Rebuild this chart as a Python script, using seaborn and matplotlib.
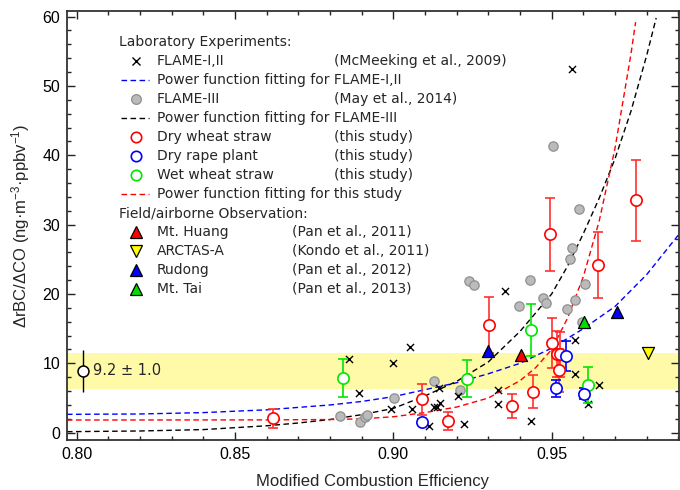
import matplotlib
matplotlib.use("Agg")
import matplotlib.pyplot as plt
from matplotlib.ticker import MultipleLocator, FormatStrFormatter
import seaborn as sns
import pandas as pd

# ---------------- data ----------------
flame12_x = [0.8861, 0.8892, 0.8993, 0.9000, 0.9053, 0.9060, 0.9112, 0.9128, 0.9139, 0.9144, 0.9147,
             0.9203, 0.9223, 0.9331, 0.9331, 0.9353, 0.9434, 0.9563, 0.9574, 0.9574, 0.9616, 0.9650]
flame12_y = [10.7, 5.7, 3.4, 10.1, 12.4, 3.4, 0.9, 3.65, 3.75, 6.5, 4.3,
             5.3, 1.25, 6.2, 4.1, 20.5, 1.7, 52.5, 13.4, 8.5, 4.2, 6.9]

flame3_x = [0.8832, 0.8895, 0.8910, 0.8918, 0.9002, 0.9128, 0.9211, 0.9240, 0.9255, 0.9397, 0.9432,
            0.9473, 0.9481, 0.9505, 0.9547, 0.9558, 0.9563, 0.9574, 0.9587, 0.9595, 0.9605]
flame3_y = [2.45, 1.6, 2.3, 2.5, 5.0, 7.5, 6.15, 21.9, 21.3, 18.2, 22.0,
            19.4, 18.7, 41.3, 17.9, 25.0, 26.7, 19.1, 32.2, 15.9, 21.4]

dry_wheat_x = [0.8621, 0.9090, 0.9174, 0.9302, 0.9374, 0.9440, 0.9495, 0.9500, 0.9516, 0.9526, 0.9523, 0.9645, 0.9765]
dry_wheat_y = [2.07, 4.8, 1.73, 15.5, 3.85, 5.9, 28.6, 12.9, 11.3, 11.3, 9.0, 24.2, 33.5]
dry_wheat_err = [1.35, 2.2, 1.3, 4.0, 1.8, 2.35, 5.3, 3.6, 3.3, 3.2, 3.1, 4.8, 5.8]

dry_rape_x = [0.9090, 0.9514, 0.9544, 0.9603]
dry_rape_y = [1.6, 6.4, 11.05, 5.6]
dry_rape_err = [0.4, 1.2, 2.2, 0.8]

wet_wheat_x = [0.8842, 0.9234, 0.9434, 0.9614]
wet_wheat_y = [7.9, 7.8, 14.8, 6.9]
wet_wheat_err = [2.75, 2.7, 3.8, 2.6]

huang_x, huang_y = [0.9403], [11.2]
arctas_x, arctas_y = [0.9803], [11.5]
rudong_x, rudong_y = [0.9300, 0.9705], [11.8, 17.4]
tai_x, tai_y = [0.9603], [16.0]

mean_x, mean_y, mean_err = [0.8020], [8.9], [3.0]
band_low, band_high = 6.35, 11.45
mean_label = "9.2 \u00b1 1.0"

fit12_x = [0.797, 0.82, 0.84, 0.86, 0.88, 0.89, 0.90, 0.91, 0.92, 0.93, 0.94, 0.95, 0.96, 0.97, 0.98, 0.99]
fit12_y = [2.65, 2.7, 2.9, 3.3, 4.0, 4.5, 5.2, 6.2, 7.2, 8.5, 10.0, 12.2, 15.0, 18.2, 22.8, 28.5]

fit3_x = [0.797, 0.82, 0.84, 0.86, 0.87, 0.88, 0.89, 0.90, 0.91, 0.92, 0.93, 0.94, 0.95, 0.955,
          0.96, 0.965, 0.97, 0.975, 0.98, 0.983]
fit3_y = [0.15, 0.25, 0.45, 1.0, 1.4, 1.9, 2.6, 3.5, 5.3, 7.4, 10.2, 14.6, 20.0, 24.0,
          28.7, 33.8, 39.5, 46.3, 54.4, 59.8]

fitthis_x = [0.797, 0.86, 0.88, 0.89, 0.90, 0.91, 0.92, 0.93, 0.94, 0.945, 0.95, 0.955, 0.96,
             0.965, 0.97, 0.975, 0.9765]
fitthis_y = [1.83, 1.85, 1.9, 2.0, 2.3, 2.9, 3.7, 5.0, 7.5, 9.4, 12.0, 16.5, 22.5,
             30.5, 41.0, 54.5, 59.2]

# ---------------- style ----------------
sns.set_style("ticks")
plt.rcParams["font.family"] = ["Liberation Sans", "DejaVu Sans"]
plt.rcParams["mathtext.fontset"] = "custom"
plt.rcParams["mathtext.rm"] = "Liberation Sans"
plt.rcParams["mathtext.it"] = "Liberation Sans:italic"

RED, BLUE, GREEN, YEL = "#ff0000", "#0000ff", "#00e600", "#ffff00"
RED_BAR = "#ff3030"

fig = plt.figure(figsize=(6.8, 4.9), dpi=100)
ax = fig.add_axes([67 / 680, 50 / 490, 612 / 680, 429 / 490])
ax.set_xlim(0.797, 0.9902)
ax.set_ylim(-1.05, 60.8)

ax.axhspan(band_low, band_high, color="#fffaa8", lw=0, zorder=0)

dash = (4, 2.5)
for fx_, fy_, c in [(fit12_x, fit12_y, BLUE), (fit3_x, fit3_y, "black"), (fitthis_x, fitthis_y, RED)]:
    sns.lineplot(x=fx_, y=fy_, ax=ax, color=c, lw=1.0, sort=False, estimator=None, zorder=2,
                 dashes=False, linestyle=(0, dash))

sns.scatterplot(x=flame3_x, y=flame3_y, ax=ax, s=45, color="#bbbbbb", edgecolor="#8f8f8f",
                linewidth=0.9, zorder=3)
sns.scatterplot(x=flame12_x, y=flame12_y, ax=ax, marker="x", s=26, color="black", linewidth=1.0, zorder=4)

for xs, ys, es, c, bc in [(dry_wheat_x, dry_wheat_y, dry_wheat_err, RED, RED_BAR),
                          (wet_wheat_x, wet_wheat_y, wet_wheat_err, GREEN, GREEN),
                          (dry_rape_x, dry_rape_y, dry_rape_err, BLUE, BLUE)]:
    ax.errorbar(xs, ys, yerr=es, fmt="none", ecolor=bc, elinewidth=1.2, capsize=3.4, capthick=1.2, zorder=5)
    sns.scatterplot(x=xs, y=ys, ax=ax, s=66, facecolor="white", edgecolor=c, linewidth=1.2, zorder=6)

ax.errorbar(mean_x, mean_y, yerr=mean_err, fmt="none", ecolor="black", elinewidth=1.0, capsize=0, zorder=5)
sns.scatterplot(x=mean_x, y=mean_y, ax=ax, s=62, facecolor="white", edgecolor="black", linewidth=1.1, zorder=6)
ax.text(mean_x[0] + 0.0032, mean_y[0], mean_label, fontsize=10.5, family="DejaVu Sans", va="center", ha="left")

tri = [(huang_x, huang_y, RED, "^"), (arctas_x, arctas_y, YEL, "v"),
       (rudong_x, rudong_y, BLUE, "^"), (tai_x, tai_y, "#00dd00", "^")]
for xs, ys, c, m in tri:
    sns.scatterplot(x=xs, y=ys, ax=ax, marker=m, s=75, color=c, edgecolor="black", linewidth=0.9, zorder=7)

# ---------------- axes ----------------
ax.xaxis.set_major_locator(MultipleLocator(0.05))
ax.xaxis.set_minor_locator(MultipleLocator(0.01))
ax.yaxis.set_major_locator(MultipleLocator(10))
ax.yaxis.set_minor_locator(MultipleLocator(2))
ax.xaxis.set_major_formatter(FormatStrFormatter("%.2f"))
ax.tick_params(which="both", direction="in", top=True, right=True, colors="#222222", labelcolor="black",
               labelsize=11.5)
ax.tick_params(which="major", length=6, width=1.0, pad=5)
ax.tick_params(which="minor", length=3, width=1.0)
for s in ax.spines.values():
    s.set_linewidth(1.3)
    s.set_color("#333333")
ax.set_xlabel("Modified Combustion Efficiency", fontsize=12, labelpad=9)
ax.set_ylabel("\u0394rBC/\u0394CO (ng\u00b7m$^{-3}$\u00b7ppbv$^{-1}$)", fontsize=12, labelpad=7)

# ---------------- legend (drawn as text rows in axes fraction) ----------------
def fx(px):
    return (px - 67) / 612

def fy(py):
    return (440 - py) / 429

row0, drow = 42, 19.0
lfont = dict(fontsize=10, family="DejaVu Sans", va="center", transform=ax.transAxes)
rows = [
    ("header", "Laboratory Experiments:", None, None),
    ("x", "FLAME-I,II", "(McMeeking et al., 2009)", "black"),
    ("line", "Power function fitting for FLAME-I,II", None, BLUE),
    ("gray", "FLAME-III", "(May et al., 2014)", None),
    ("line", "Power function fitting for FLAME-III", None, "black"),
    ("open", "Dry wheat straw", "(this study)", RED),
    ("open", "Dry rape plant", "(this study)", BLUE),
    ("open", "Wet wheat straw", "(this study)", GREEN),
    ("line", "Power function fitting for this study", None, RED),
    ("header", "Field/airborne Observation:", None, None),
    ("^", "Mt. Huang", "(Pan et al., 2011)", RED),
    ("v", "ARCTAS-A", "(Kondo et al., 2011)", YEL),
    ("^", "Rudong", "(Pan et al., 2012)", BLUE),
    ("^", "Mt. Tai", "(Pan et al., 2013)", "#00dd00"),
]
field = False
for i, (kind, lab, ref, c) in enumerate(rows):
    yy = fy(row0 + drow * i)
    if kind == "header":
        ax.text(fx(119), yy, lab, **lfont)
        if lab.startswith("Field"):
            field = True
        continue
    mk = fx(136)
    if kind == "x":
        ax.plot([mk], [yy], marker="x", ms=6, mew=1.0, color="black", ls="none", transform=ax.transAxes)
    elif kind == "line":
        ax.plot([fx(121), fx(149)], [yy, yy], color=c, lw=1.0, ls=(0, dash), transform=ax.transAxes)
    elif kind == "gray":
        ax.plot([mk], [yy], marker="o", ms=7, mfc="#bbbbbb", mec="#8f8f8f", mew=0.9, ls="none",
                transform=ax.transAxes)
    elif kind == "open":
        ax.plot([mk], [yy], marker="o", ms=7.5, mfc="white", mec=c, mew=1.2, ls="none", transform=ax.transAxes)
    else:
        ax.plot([mk], [yy], marker=kind, ms=9, mfc=c, mec="black", mew=0.9, ls="none", transform=ax.transAxes)
    ax.text(fx(157), yy, lab, **lfont)
    if ref:
        ax.text(fx(292 if field else 334), yy, ref, **lfont)

fig.savefig("out.png", dpi=100)
